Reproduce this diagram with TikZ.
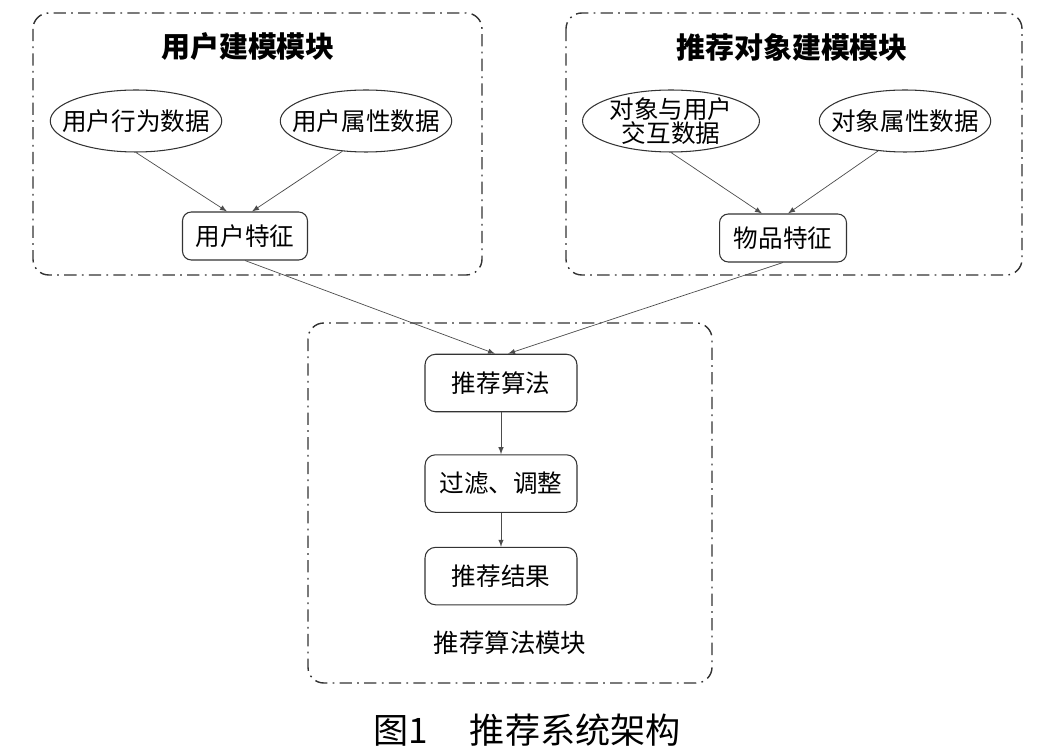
\documentclass[tikz,border=0pt]{standalone}
\usepackage{fontspec}
\setmainfont{Noto Sans CJK SC}
\usetikzlibrary{positioning,calc,shapes.geometric}

\tikzset{
	modbox/.style={draw=black!80,line width=0.8pt,rounded corners=9pt,dash pattern=on 7pt off 3pt on 1pt off 3pt},
	datanode/.style={ellipse,draw=black!80,semithick,minimum height=1.24cm,inner xsep=-7.5pt,inner ysep=0pt,font=\fontsize{14}{14}\selectfont,align=center},
	featnode/.style={rectangle,rounded corners=5pt,draw=black!80,semithick,minimum width=2.5cm,minimum height=0.96cm,font=\fontsize{14}{14}\selectfont},
	algnode/.style={rectangle,rounded corners=6pt,draw=black!80,semithick,minimum width=3.04cm,minimum height=1.15cm,font=\fontsize{14}{14}\selectfont},
	link/.style={-latex,black!70}
}

\begin{document}
\begin{tikzpicture}[x=0.02cm,y=-0.02cm]
		\useasboundingbox (0,0) rectangle (1053,756);
		
		% module frames
		\draw[modbox] (33,13) rectangle (482,275);
		\draw[modbox] (566,13) rectangle (1022,275);
		\draw[modbox] (308,323) rectangle (712,683);
		
		\node[font=\fontsize{16.5}{16.5}\selectfont\bfseries] (ut) at (248,47) {用户建模模块};
		\node[font=\fontsize{16.5}{16.5}\selectfont\bfseries] (it) at (792,47) {推荐对象建模模块};
		
		% user modelling
		\node[datanode] (ua) at (136,121) {用户行为数据};
		\node[datanode] (uc) at (366,121) {用户属性数据};
		\node[featnode] (ub) at (245,236) {用户特征};
		
		% item modelling
		\node[datanode,minimum width=3.54cm,inner xsep=0pt,inner ysep=-2pt,font=\fontsize{14}{14}\selectfont] (ia) at (671,121) {对象与用户\\交互数据};
		\node[datanode] (ic) at (905,121) {对象属性数据};
		\node[featnode,minimum width=2.54cm] (ib) at (783,238) {物品特征};
		
		% algorithm
		\node[algnode] (alg) at (501,383) {推荐算法};
		\node[algnode,below=0.84cm of alg] (filt) {过滤、调整};
		\node[algnode,below=0.68cm of filt] (res) {推荐结果};
		\node[font=\fontsize{14.5}{14.5}\selectfont] (at) at (510,643) {推荐算法模块};
		
		\draw[link] (ua.south)--($(ub.north)+(-18,0)$);
		\draw[link] (uc.232)--($(ub.north)+(7,0)$);
		\draw[link] (ia.south)--($(ib.north)+(-21,0)$);
		\draw[link] (ic.228)--($(ib.north)+(5,0)$);
		\draw[link] (ub.south)--($(alg.north)+(-6,0)$);
		\draw[link] (ib.south)--($(alg.north)+(7,0)$);
		\draw[link] (alg.south)--(filt.north);
		\draw[link] (filt.south)--(res.north);
		
		\node[font=\fontsize{20}{20}\selectfont] (cap) at (527,730) {图1\hspace{1.2em}推荐系统架构};
	\end{tikzpicture}
\end{document}
